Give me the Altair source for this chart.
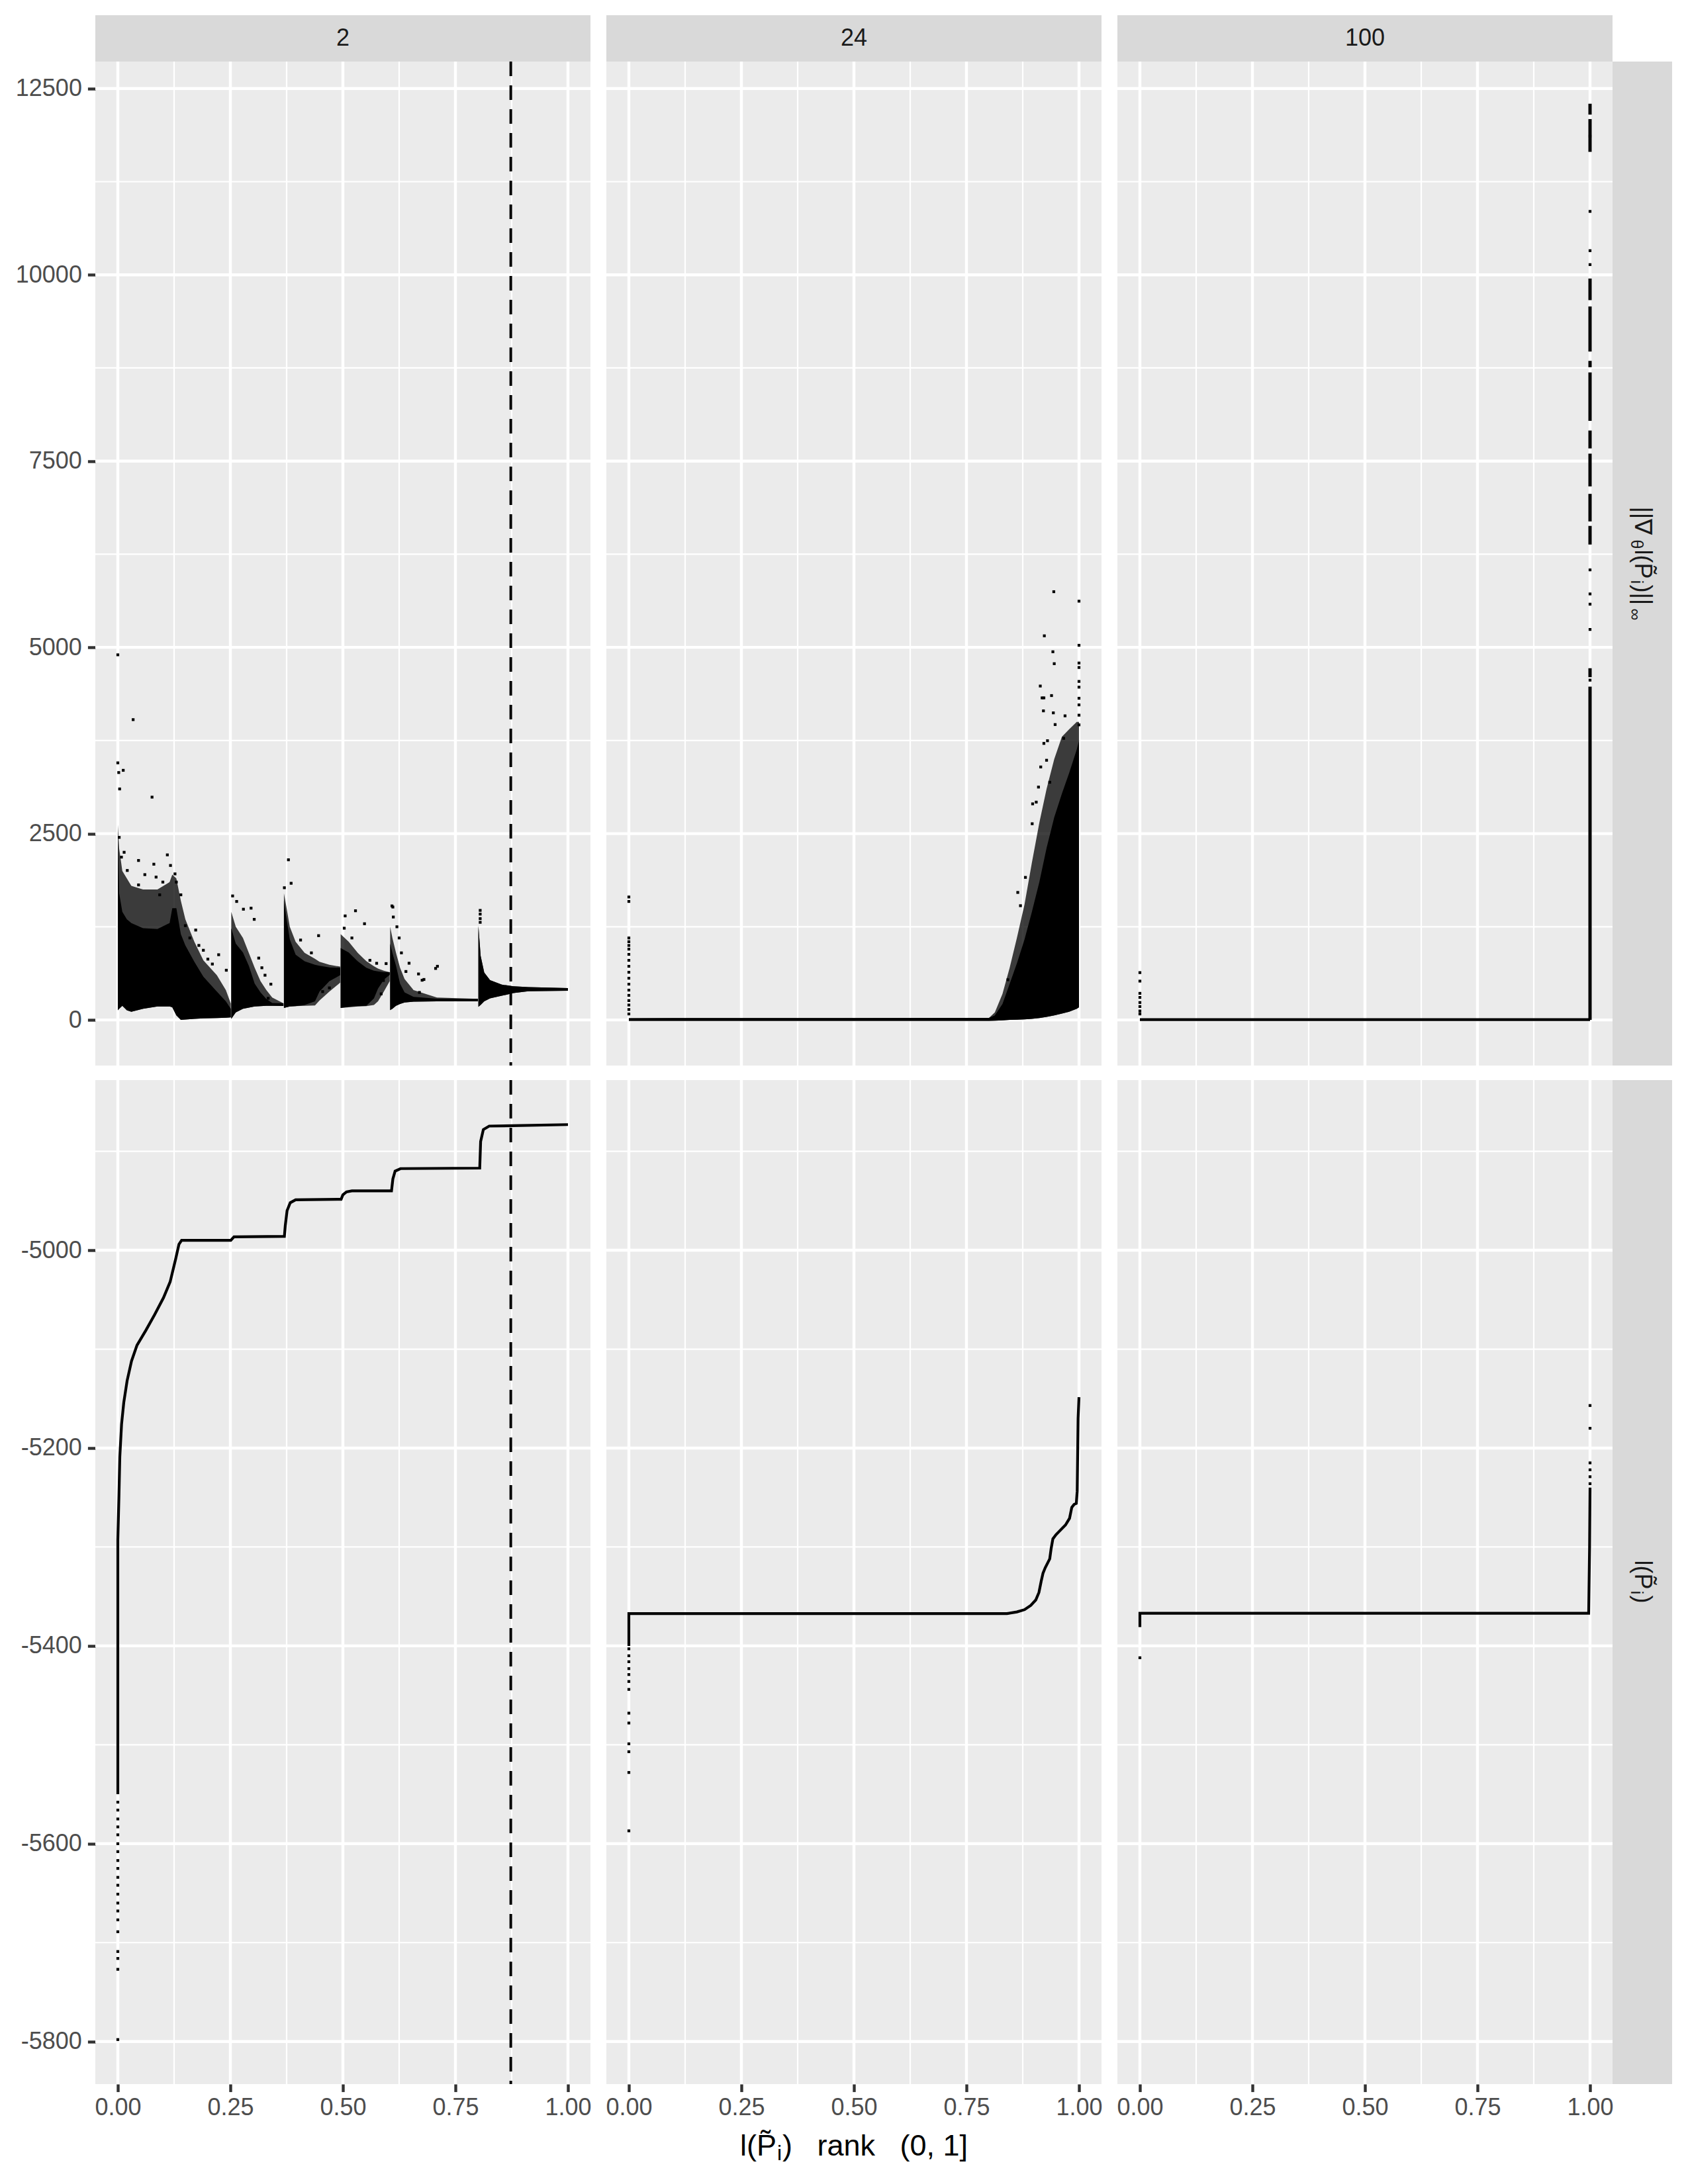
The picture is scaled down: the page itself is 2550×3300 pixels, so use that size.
import altair as alt
import pandas as pd

FONT = "Liberation Sans"
W, H = 748, 1517
STRIP = 70
RSTRIP = 90

X_DOMAIN = [-0.05, 1.05]
GRAD_DOMAIN = [-612, 12862]
LL_DOMAIN = [-5843, -4828]

col_labels = ["2", "24", "100"]

x_major = [0, 0.25, 0.5, 0.75, 1.0]
x_minor = [0.125, 0.375, 0.625, 0.875]
grad_major = [0, 2500, 5000, 7500, 10000, 12500]
grad_minor = [1250, 3750, 6250, 8750, 11250]
ll_major = [-5800, -5600, -5400, -5200, -5000]
ll_minor = [-5700, -5500, -5300, -5100, -4900]

cutoff_x = [0.873]

# ---------------- d = 2, gradient norm cloud (dense core + sparser halo) --------------
p1_seg = ["A"] * 17 + ["B"] * 9 + ["C"] * 9 + ["D"] * 8 + ["E"] * 8 + ["F"] * 8
p1_x = [0.000, 0.003, 0.010, 0.020, 0.030, 0.056, 0.088, 0.115, 0.121, 0.130, 0.140, 0.150, 0.170, 0.190, 0.220, 0.240, 0.251,
        0.252, 0.262, 0.278, 0.291, 0.304, 0.317, 0.330, 0.343, 0.368,
        0.369, 0.375, 0.382, 0.395, 0.415, 0.438, 0.448, 0.470, 0.494,
        0.495, 0.513, 0.533, 0.552, 0.569, 0.578, 0.591, 0.604,
        0.605, 0.610, 0.618, 0.627, 0.637, 0.657, 0.709, 0.800,
        0.801, 0.806, 0.814, 0.827, 0.853, 0.879, 0.912, 1.000]
p1_lo = [130, 150, 190, 130, 110, 150, 180, 180, 170, 60, 0, 5, 15, 20, 25, 30, 35,
         15, 100, 150, 165, 180, 185, 190, 190, 188,
         160, 170, 180, 185, 200, 250, 380, 520, 600,
         160, 176, 185, 190, 290, 420, 540, 605,
         131, 150, 190, 215, 235, 245, 250, 250,
         176, 200, 250, 290, 324, 360, 384, 392]
p1_hi = [2450, 1700, 1450, 1350, 1300, 1230, 1220, 1300, 1500, 1500, 1150, 1000, 780, 580, 380, 250, 150,
         1230, 1024, 905, 726, 488, 369, 280, 228, 222,
         1600, 1350, 1083, 875, 786, 740, 726, 705, 700,
         964, 905, 786, 700, 660, 652, 640, 640,
         1024, 900, 726, 488, 369, 310, 285, 282,
         1262, 860, 637, 533, 473, 452, 440, 428]
p1_halo_lo = [130, 150, 190, 130, 110, 150, 180, 180, 170, 60, 0, 5, 15, 20, 25, 30, 35,
              15, 100, 150, 165, 180, 185, 190, 190, 188,
              160, 170, 180, 185, 190, 195, 260, 380, 500,
              160, 170, 180, 185, 200, 250, 380, 520,
              131, 150, 190, 215, 235, 245, 250, 250,
              176, 200, 250, 290, 324, 360, 384, 392]
p1_halo_hi = [2620, 2300, 2000, 1900, 1800, 1750, 1750, 1850, 1950, 1900, 1600, 1350, 1050, 800, 600, 400, 220,
              1450, 1250, 1100, 900, 700, 520, 400, 300, 222,
              1700, 1500, 1250, 1050, 900, 820, 780, 740, 715,
              1150, 1050, 900, 790, 720, 690, 660, 640,
              1250, 1100, 900, 700, 550, 400, 300, 282,
              1262, 860, 637, 533, 473, 452, 440, 428]
p1_out_x = [0.000, 0.000, 0.002, 0.004, 0.012, 0.034, 0.076, 0.008, 0.021, 0.046, 0.080, 0.110, 0.117, 0.127,
            0.085, 0.046, 0.093, 0.140, 0.150, 0.173, 0.190, 0.200, 0.224, 0.241, 0.003, 0.014, 0.060,
            0.100, 0.130, 0.160, 0.180, 0.210,
            0.255, 0.264, 0.279, 0.296, 0.303, 0.313, 0.320, 0.334, 0.340, 0.327,
            0.370, 0.379, 0.385, 0.406, 0.446, 0.430, 0.460, 0.470, 0.455,
            0.505, 0.528, 0.548, 0.503, 0.520, 0.560, 0.575, 0.590, 0.596, 0.585,
            0.609, 0.611, 0.612, 0.620, 0.625, 0.630, 0.647, 0.668, 0.680, 0.706, 0.710, 0.640, 0.670, 0.676,
            0.805, 0.805, 0.805, 0.805]
p1_out_y = [4900, 3450, 3320, 3100, 3350, 4030, 2990, 2185, 2006, 2140, 2090, 2215, 2073, 1960,
            1917, 1812, 1679, 1679, 1265, 1206, 935, 816, 875, 667, 2450, 2250, 1950,
            1850, 1850, 1100, 1000, 750,
            1664, 1590, 1486, 1500, 1350, 830, 700, 290, 480, 600,
            1774, 2149, 1834, 1072, 1131, 900, 500, 430, 380,
            1396, 1465, 1291, 1231, 1100, 800, 760, 530, 756, 350,
            1530, 1515, 1381, 1250, 1100, 900, 761, 617, 543, 691, 720, 650, 369, 533,
            1470, 1420, 1360, 1310]

# ---------------- d = 24, gradient norm --------------
p2_x = [0.000, 0.800, 0.813, 0.830, 0.846, 0.862, 0.879, 0.895, 0.912, 0.928, 0.945, 0.962, 0.978, 0.995, 1.000]
p2_lo = [-12, -12, -10, -5, 0, 3, 8, 15, 25, 40, 60, 85, 110, 150, 170]
p2_hi = [24, 28, 60, 214, 485, 759, 1080, 1442, 1852, 2308, 2718, 3036, 3312, 3629, 3750]
p2_halo_hi = [24, 28, 100, 350, 700, 1100, 1550, 2100, 2650, 3100, 3500, 3800, 3900, 4000, 4000]
p2_out_x = [0.944, 1.0, 0.923, 0.942, 0.945, 1.0, 0.914, 0.918, 0.922, 0.939, 0.921, 0.943, 0.969, 0.947,
            0.922, 0.930, 0.966, 0.897, 0.896, 0.864, 0.870, 0.881, 0.842, 0.860, 0.838, 0.910, 0.905,
            0.915, 0.928, 0.935, 1.0, 1.0, 1.0, 1.0, 1.0, 1.0, 1.0, 1.0,
            0.0, 0.0, 0.0, 0.0, 0.0, 0.0, 0.0, 0.0, 0.0, 0.0, 0.0, 0.0, 0.0, 0.0, 0.0, 0.0, 0.0, 0.0]
p2_out_y = [5747, 5620, 5155, 4941, 4781, 5028, 4481, 4322, 4322, 4353, 4148, 4121, 4081, 3964,
            3711, 3747, 3779, 2900, 2633, 1711, 1533, 1913, 539, 645, 220, 3125, 2923,
            3395, 3485, 3190, 4790, 4730, 4543, 4466, 4317, 4228, 4090, 3960,
            1650, 1590, 1100, 1050, 1000, 950, 880, 800, 720, 640, 560, 480, 400, 330, 260, 200, 140, 80]

# ---------------- d = 100, gradient norm --------------
p3_x = [0.0, 1.0]
p3_lo = [-14, -14]
p3_hi = [22, 22]
p3_spike_lo = [0, 4600, 6380, 6690, 7160, 7670, 8040, 8760, 8970, 9660, 11650, 12150]
p3_spike_hi = [4474, 4720, 6630, 7060, 7600, 7910, 8690, 8845, 9575, 9950, 12090, 12296]
p3_out_x = [1.0, 1.0, 1.0, 1.0, 1.0, 1.0, 1.0, 1.0, 1.0,
            0.0, 0.0, 0.0, 0.0, 0.0, 0.0, 0.0, 0.0]
p3_out_y = [5240, 5580, 5717, 6040, 10137, 10324, 10851, 4560, 11860,
            635, 521, 357, 302, 234, 180, 120, 80]

# ---------------- log-likelihood curves --------------
l1_x = [0.0, 0.0, 0.0025, 0.0044, 0.0083, 0.0132, 0.0206, 0.0304, 0.0426, 0.0623, 0.0819, 0.1015, 0.1162,
        0.1284, 0.1358, 0.1417, 0.251, 0.258, 0.370, 0.372, 0.376, 0.383, 0.395, 0.496, 0.500, 0.508, 0.520,
        0.608, 0.611, 0.616, 0.628, 0.804, 0.806, 0.812, 0.825, 1.0]
l1_y = [-5550, -5293, -5248, -5209, -5176, -5154, -5132, -5112, -5096, -5081, -5065, -5048, -5032,
        -5009, -4994, -4990, -4990, -4986.5, -4986, -4975, -4960, -4952, -4949, -4948.5, -4944, -4941, -4940,
        -4940, -4928, -4920, -4917.5, -4917, -4890, -4878, -4874.5, -4873]
l1_pt_y = [-5558, -5566, -5575, -5583, -5591, -5600, -5608, -5617, -5625, -5634, -5642, -5651, -5660,
           -5668, -5677, -5689, -5709, -5716, -5727, -5798]

l2_x = [0.0, 0.0, 0.840, 0.862, 0.879, 0.893, 0.904, 0.911, 0.916, 0.920, 0.925, 0.935, 0.938, 0.942,
        0.949, 0.970, 0.979, 0.984, 0.989, 0.994, 0.996, 0.998, 1.0]
l2_y = [-5400, -5367.3, -5367.3, -5365.7, -5363.4, -5359, -5353.6, -5346, -5334.7, -5326.6, -5321, -5312,
        -5302, -5291.8, -5287.5, -5277.8, -5271, -5260, -5257, -5256, -5243.6, -5170, -5148.6]
l2_pt_y = [-5403, -5410, -5416, -5423, -5429, -5436, -5444, -5468, -5478, -5499, -5507, -5528, -5587]

l3_x = [0.0, 0.0, 0.997, 0.999, 1.0]
l3_y = [-5381, -5367, -5367, -5300, -5240]
l3_pt_x = [0.0, 1.0, 1.0, 1.0, 1.0, 1.0, 1.0]
l3_pt_y = [-5412, -5215, -5222, -5229, -5236, -5180, -5157]

# strip labels: (text, font size, vertical offset for subscripts)
grad_label = [("||\u2207", 36, 0), ("\u03b8", 25, 9), ("l(P\u0303", 36, 0), ("i", 25, 9), (")||", 36, 0), ("\u221e", 25, 11)]
grad_widths = [50, 15, 46, 7, 36, 18]
ll_label = [("l(P\u0303", 36, 0), ("i", 25, 9), (")", 36, 0)]
ll_widths = [46, 7, 13]
xtitle = [("l(P\u0303", 45, 0), ("i", 32, 11), (")\u00a0\u00a0\u00a0rank\u00a0\u00a0\u00a0(0,\u00a01]", 45, 0)]
xtitle_widths = [56, 8, 280]

# ------------------------------------------------------------------------
ONE = pd.DataFrame({"k": [0]})
XSCALE = alt.Scale(domain=X_DOMAIN, nice=False, zero=False)

XAXIS = alt.Axis(values=x_major, labelExpr="format(datum.value, '.2f')", title=None, grid=False,
                 domain=False, tickSize=11.6, tickWidth=4.4, tickColor="#333333", labelColor="#4D4D4D",
                 labelFontSize=36, labelFont=FONT, labelPadding=7, labelFlush=False, labelOverlap=False,
                 labelBound=False)


def yaxis(vals):
    return alt.Axis(values=vals,
                    labelExpr="datum.value < 0 ? '-' + format(-datum.value, 'd') : format(datum.value, 'd')",
                    title=None, grid=False, domain=False, tickSize=11.6, tickWidth=4.4,
                    tickColor="#333333", labelColor="#4D4D4D", labelFontSize=36, labelFont=FONT,
                    labelPadding=9, labelFlush=False, labelOverlap=False, labelBound=False)


def label_layers(pieces, widths, x, y, angle):
    total = sum(widths)
    start = -total / 2
    out = []
    for (txt, fs, sub), w in zip(pieces, widths):
        kw = dict(text=txt, fontSize=fs, font=FONT, color="#1A1A1A", align="left", baseline="middle", dx=start)
        if angle:
            kw["angle"] = angle
        if sub:
            kw["dy"] = sub
        out.append(alt.Chart(ONE).mark_text(**kw).encode(x=alt.value(x), y=alt.value(y)))
        start += w
    return out


def panel(r, c):
    ydom = GRAD_DOMAIN if r == 0 else LL_DOMAIN
    xaxis = XAXIS if r == 1 else None
    if c == 0:
        yax = yaxis(grad_major if r == 0 else ll_major)
    else:
        yax = None
    yscale = alt.Scale(domain=ydom, nice=False, zero=False)

    def X(f):
        return alt.X(f + ":Q", scale=XSCALE, axis=xaxis)

    def Y(f):
        return alt.Y(f + ":Q", scale=yscale, axis=yax)

    ymaj = grad_major if r == 0 else ll_major
    ymin = grad_minor if r == 0 else ll_minor
    layers = [
        alt.Chart(pd.DataFrame({"gy": ymin})).mark_rule(color="white", strokeWidth=2.2).encode(y=Y("gy")),
        alt.Chart(pd.DataFrame({"gx": x_minor})).mark_rule(color="white", strokeWidth=2.2).encode(x=X("gx")),
        alt.Chart(pd.DataFrame({"gy": ymaj})).mark_rule(color="white", strokeWidth=4.4).encode(y=Y("gy")),
        alt.Chart(pd.DataFrame({"gx": x_major})).mark_rule(color="white", strokeWidth=4.4).encode(x=X("gx")),
    ]

    def area(df, op):
        return alt.Chart(df).mark_area(color="black", opacity=op, interpolate="linear").encode(
            x=X("x"), y=Y("lo"), y2=alt.Y2("hi"), detail="seg:N")

    def pts(xs, ys):
        return alt.Chart(pd.DataFrame({"x": xs, "y": ys})).mark_square(size=18, color="black", opacity=1).encode(
            x=X("x"), y=Y("y"))

    def line(xs, ys):
        df = pd.DataFrame({"x": xs, "y": ys, "i": list(range(len(xs)))})
        return alt.Chart(df).mark_line(color="black", strokeWidth=4.2).encode(x=X("x"), y=Y("y"), order="i:Q")

    if r == 0 and c == 0:
        layers.append(area(pd.DataFrame({"seg": p1_seg, "x": p1_x, "lo": p1_halo_lo, "hi": p1_halo_hi}), 0.75))
        layers.append(area(pd.DataFrame({"seg": p1_seg, "x": p1_x, "lo": p1_lo, "hi": p1_hi}), 1))
        layers.append(pts(p1_out_x, p1_out_y))
    if r == 0 and c == 1:
        layers.append(area(pd.DataFrame({"seg": ["A"] * len(p2_x), "x": p2_x, "lo": p2_lo, "hi": p2_halo_hi}), 0.75))
        layers.append(area(pd.DataFrame({"seg": ["A"] * len(p2_x), "x": p2_x, "lo": p2_lo, "hi": p2_hi}), 1))
        layers.append(pts(p2_out_x, p2_out_y))
    if r == 0 and c == 2:
        layers.append(area(pd.DataFrame({"seg": ["A"] * len(p3_x), "x": p3_x, "lo": p3_lo, "hi": p3_hi}), 1))
        sp = pd.DataFrame({"x": [1.0] * len(p3_spike_lo), "lo": p3_spike_lo, "hi": p3_spike_hi})
        layers.append(alt.Chart(sp).mark_rule(color="black", strokeWidth=5).encode(
            x=X("x"), y=Y("lo"), y2=alt.Y2("hi")))
        layers.append(pts(p3_out_x, p3_out_y))
    if r == 1 and c == 0:
        layers.append(line(l1_x, l1_y))
        layers.append(pts([0.0] * len(l1_pt_y), l1_pt_y))
    if r == 1 and c == 1:
        layers.append(line(l2_x, l2_y))
        layers.append(pts([0.0] * len(l2_pt_y), l2_pt_y))
    if r == 1 and c == 2:
        layers.append(line(l3_x, l3_y))
        layers.append(pts(l3_pt_x, l3_pt_y))

    if c == 0:
        layers.append(alt.Chart(pd.DataFrame({"x": cutoff_x})).mark_rule(
            color="black", strokeWidth=4, strokeDash=[22, 14]).encode(x=X("x")))

    if r == 0:
        layers.append(alt.Chart(ONE).mark_rect(color="#D9D9D9").encode(
            x=alt.value(0), x2=alt.value(W), y=alt.value(-STRIP), y2=alt.value(0)))
        layers.append(alt.Chart(ONE).mark_text(text=col_labels[c], fontSize=36, font=FONT, color="#1A1A1A",
                                               align="center", baseline="middle").encode(
            x=alt.value(W / 2), y=alt.value(-STRIP / 2)))
    if c == 2:
        layers.append(alt.Chart(ONE).mark_rect(color="#D9D9D9").encode(
            x=alt.value(W), x2=alt.value(W + RSTRIP), y=alt.value(0), y2=alt.value(H)))
        if r == 0:
            layers += label_layers(grad_label, grad_widths, W + RSTRIP / 2, H / 2, 90)
        else:
            layers += label_layers(ll_label, ll_widths, W + RSTRIP / 2, H / 2, 90)
    if r == 1 and c == 1:
        total = sum(xtitle_widths)
        start = W / 2 - total / 2
        for (txt, fs, sub), w in zip(xtitle, xtitle_widths):
            kw = dict(text=txt, fontSize=fs, font=FONT, color="black", align="left", baseline="middle")
            if sub:
                kw["dy"] = sub
            layers.append(alt.Chart(ONE).mark_text(**kw).encode(x=alt.value(start), y=alt.value(H + 94)))
            start += w

    return alt.layer(*layers).properties(width=W, height=H)


panels = [panel(r, c) for r in range(2) for c in range(3)]

chart = alt.concat(*panels, columns=3, spacing={"row": 22, "column": 24}, bounds="flush").properties(
    padding={"top": 15, "left": 15, "right": 10, "bottom": 10},
    background="white",
).configure_view(fill="#EBEBEB", strokeWidth=0)

chart.save("out.html", embed_options={"renderer": "svg", "actions": False})
